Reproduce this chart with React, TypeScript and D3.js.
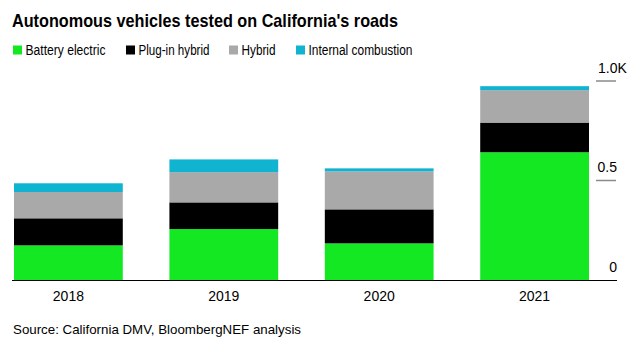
import React from "react";
import * as d3 from "d3";

const years = ["2018", "2019", "2020", "2021"];
const seriesNames = ["Battery electric", "Plug-in hybrid", "Hybrid", "Internal combustion"];
const batteryElectric = [174, 256, 184, 642];
const plugInHybrid = [136, 134, 171, 149];
const hybrid = [132, 152, 191, 163];
const internalCombustion = [44, 64, 15, 20];
const colors = ["#13e823", "#000000", "#a9a9a9", "#10b4d1"];
const yTicks = [0, 500, 1000];
const yTickLabels = ["0", "0.5", "1.0K"];

const W = 644;
const H = 351;

export default function App() {
  const data = years.map((y, i) => ({
    year: y,
    s0: batteryElectric[i],
    s1: plugInHybrid[i],
    s2: hybrid[i],
    s3: internalCombustion[i],
  }));
  const keys = ["s0", "s1", "s2", "s3"];
  const stacked = d3.stack<any>().keys(keys)(data);

  const x = d3.scaleBand().domain(years).range([14, 589]).paddingInner(0.3).paddingOuter(0);
  const y = d3.scaleLinear().domain([0, 1000]).range([280, 81]);

  const font = "'Liberation Sans', Arial, Helvetica, sans-serif";
  const legendX = [13, 126, 229, 296];
  const legendTextLen = [80, 71, 34, 104];

  return (
    <svg width={W} height={H} style={{ position: "absolute", left: 0, top: 0, background: "#fff" }} fontFamily={font}>
      <text x={12} y={27} fontSize={19} fontWeight="bold" fill="#000" textLength={386} lengthAdjust="spacingAndGlyphs">
        Autonomous vehicles tested on California's roads
      </text>
      {seriesNames.map((n, i) => (
        <g key={n}>
          <rect x={legendX[i]} y={45.5} width={9} height={9} fill={colors[i]} />
          <text x={legendX[i] + 12.5} y={54.5} fontSize={14} fill="#000" textLength={legendTextLen[i]} lengthAdjust="spacingAndGlyphs">
            {n}
          </text>
        </g>
      ))}
      {stacked.map((layer, li) => (
        <g key={li} fill={colors[li]}>
          {layer.map((d: any, i: number) => (
            <rect
              key={i}
              x={x(years[i])}
              y={y(d[1])}
              width={x.bandwidth()}
              height={y(d[0]) - y(d[1])}
            />
          ))}
        </g>
      ))}
      {yTicks.map((t, i) =>
        t === 0 ? null : (
          <line key={t} x1={596} x2={616} y1={y(t)} y2={y(t)} stroke="#8a8a8a" strokeWidth={1.5} />
        )
      )}
      {yTicks.map((t, i) => (
        <text
          key={"l" + t}
          x={t === 1000 ? 598 : 617}
          y={y(t) - 8.5}
          fontSize={14}
          textAnchor={t === 1000 ? "start" : "end"}
          fill="#000"
        >
          {yTickLabels[i]}
        </text>
      ))}
      <line x1={12} x2={617} y1={280.5} y2={280.5} stroke="#000" strokeWidth={1} />
      {years.map((yr) => (
        <text key={yr} x={(x(yr) as number) + x.bandwidth() / 2} y={300.5} fontSize={14} textAnchor="middle" fill="#000">
          {yr}
        </text>
      ))}
      <text x={13} y={334} fontSize={13} fill="#000" textLength={288} lengthAdjust="spacingAndGlyphs">
        Source: California DMV, BloombergNEF analysis
      </text>
    </svg>
  );
}
